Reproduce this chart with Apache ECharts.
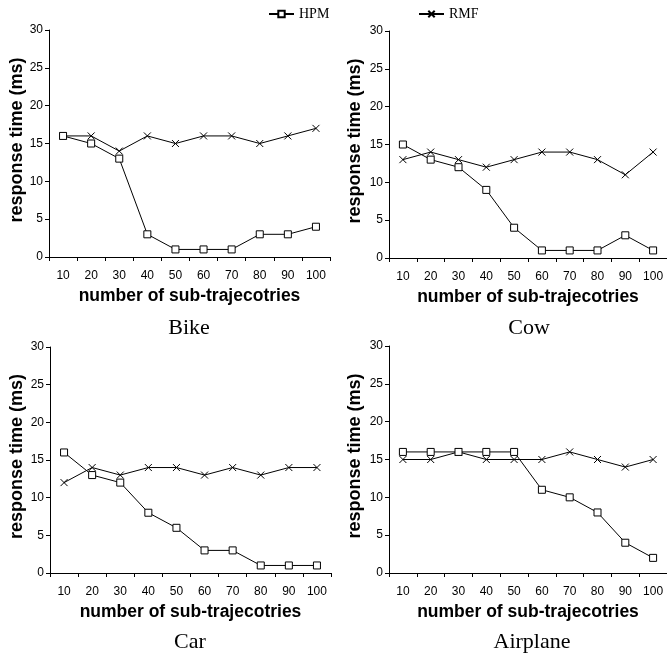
<!DOCTYPE html>
<html>
<head>
<meta charset="utf-8">
<script src="https://cdn.jsdelivr.net/npm/echarts@6/dist/echarts.min.js"></script>
<style>
  html, body { margin: 0; padding: 0; background: #fff; }
  #chart { width: 667px; height: 658px; }
</style>
</head>
<body>
<div id="chart"></div>
<script>
// Number of sub-trajectories (x categories)
const subTrajectories = ['10', '20', '30', '40', '50', '60', '70', '80', '90', '100'];

// Response time (ms) per dataset
const bikeHPM = [16, 15, 13, 3, 1, 1, 1, 3, 3, 4];
const bikeRMF = [16, 16, 14, 16, 15, 16, 16, 15, 16, 17];
const cowHPM = [15, 13, 12, 9, 4, 1, 1, 1, 3, 1];
const cowRMF = [13, 14, 13, 12, 13, 14, 14, 13, 11, 14];
const carHPM = [16, 13, 12, 8, 6, 3, 3, 1, 1, 1];
const carRMF = [12, 14, 13, 14, 14, 13, 14, 13, 14, 14];
const airplaneHPM = [16, 16, 16, 16, 16, 11, 10, 8, 4, 2];
const airplaneRMF = [15, 15, 16, 15, 15, 15, 16, 15, 14, 15];

const panelNames = ['Bike', 'Cow', 'Car', 'Airplane'];
const hpmSets = [bikeHPM, cowHPM, carHPM, airplaneHPM];
const rmfSets = [bikeRMF, cowRMF, carRMF, airplaneRMF];

const yMin = 0, yMax = 30, yStep = 5;

const SANS = 'Liberation Sans, Arial, sans-serif';
const SERIF = 'Liberation Serif, Times New Roman, serif';

// panel layout
const grids = [
  { left: 49, top: 30, width: 281, height: 227 },
  { left: 389, top: 31, width: 278, height: 227 },
  { left: 50, top: 347, width: 281, height: 226 },
  { left: 389, top: 346, width: 278, height: 227 }
];
const xNameGaps = [30, 30, 30, 30];
const yNameGaps = [22, 25, 24, 25];
const captionPos = [[189, 328], [529, 328], [190, 642], [532, 642]];

const crossPath = 'path://M0 0L10 10M10 0L0 10';

const xAxes = grids.map((g, i) => ({
  type: 'category',
  gridIndex: i,
  data: subTrajectories,
  boundaryGap: true,
  axisLine: { lineStyle: { color: '#000', width: 1 } },
  axisTick: { show: true, length: 4, lineStyle: { color: '#000' } },
  axisLabel: { color: '#000', fontFamily: SANS, fontSize: 12, margin: 13 },
  name: 'number of sub-trajecotries',
  nameLocation: 'middle',
  nameGap: xNameGaps[i],
  nameTextStyle: { color: '#000', fontFamily: SANS, fontSize: 17.5, fontWeight: 'bold' }
}));

const yAxes = grids.map((g, i) => ({
  type: 'value',
  gridIndex: i,
  min: yMin,
  max: yMax,
  interval: yStep,
  splitLine: { show: false },
  axisLine: { show: true, lineStyle: { color: '#000', width: 1 } },
  axisTick: { show: true, length: 4, lineStyle: { color: '#000' } },
  axisLabel: { color: '#000', fontFamily: SANS, fontSize: 12, margin: 6 },
  name: 'response time (ms)',
  nameLocation: 'middle',
  nameGap: yNameGaps[i],
  nameTextStyle: {
    color: '#000', fontFamily: SANS, fontSize: 18, fontWeight: 'bold',
    padding: [0, 0, 0, 7]
  }
}));

const series = [];
grids.forEach((g, i) => {
  series.push({
    name: 'HPM',
    type: 'line',
    xAxisIndex: i,
    yAxisIndex: i,
    data: hpmSets[i],
    symbol: 'rect',
    symbolSize: 7,
    showAllSymbol: true,
    animation: false,
    lineStyle: { color: '#000', width: 1 },
    itemStyle: { color: '#fff', borderColor: '#000', borderWidth: 1 },
    z: 3
  });
  series.push({
    name: 'RMF',
    type: 'line',
    xAxisIndex: i,
    yAxisIndex: i,
    data: rmfSets[i],
    symbol: crossPath,
    symbolSize: 7,
    showAllSymbol: true,
    animation: false,
    lineStyle: { color: '#000', width: 1 },
    itemStyle: { color: '#fff', borderColor: '#000', borderWidth: 1 },
    z: 2
  });
});

const captions = panelNames.map((name, i) => ({
  type: 'text',
  x: captionPos[i][0],
  y: captionPos[i][1],
  style: {
    text: name,
    fill: '#000',
    font: '22px ' + SERIF,
    textAlign: 'center',
    textVerticalAlign: 'middle'
  }
}));

const legendBase = {
  top: 7,
  padding: 0,
  itemWidth: 25,
  itemHeight: 8,
  itemGap: 4,
  textStyle: { color: '#000', fontFamily: SERIF, fontSize: 14 }
};

const chart = echarts.init(document.getElementById('chart'), null, { renderer: 'canvas' });
chart.setOption({
  animation: false,
  backgroundColor: '#fff',
  legend: [
    Object.assign({}, legendBase, { data: ['HPM'], left: 268 }),
    Object.assign({}, legendBase, { data: ['RMF'], left: 418 })
  ],
  grid: grids,
  xAxis: xAxes,
  yAxis: yAxes,
  series: series,
  graphic: captions
});
</script>
</body>
</html>
